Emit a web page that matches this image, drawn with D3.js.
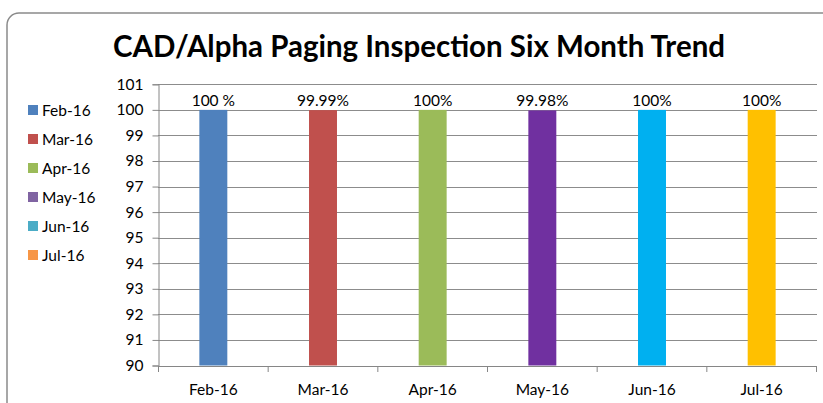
<!DOCTYPE html>
<html><head><meta charset="utf-8">
<script src="https://cdn.jsdelivr.net/npm/d3@7"></script>
<style>body{margin:0;background:#fff;}svg{display:block;font-family:Lato,"Open Sans",sans-serif;}</style>
</head><body><svg id="c" width="823" height="403"></svg>
<script>
const categories = ["Feb-16","Mar-16","Apr-16","May-16","Jun-16","Jul-16"];
const values = [100, 99.99, 100, 99.98, 100, 100];
const valueLabels = ["100 %","99.99%","100%","99.98%","100%","100%"];
const barColors = ["#4F81BD","#C0504D","#9BBB59","#7030A0","#00B0F0","#FFC000"];
const legendColors = ["#4F81BD","#C0504D","#9BBB59","#8064A2","#4BACC6","#F79646"];
const yTicks = [90,91,92,93,94,95,96,97,98,99,100,101];
const title = "CAD/Alpha Paging Inspection Six Month Trend";

const svg = d3.select("#c");
svg.append("rect").attr("x",7).attr("y",13).attr("width",840).attr("height",420)
  .attr("rx",12).attr("fill","#fff").attr("stroke","#8a8a8a").attr("stroke-width",1.5);

svg.append("text").attr("x",419).attr("y",57).attr("text-anchor","middle")
  .attr("font-size",30).attr("font-weight","bold").attr("fill","#000")
  .attr("textLength",612).attr("lengthAdjust","spacingAndGlyphs").text(title);

const x = d3.scaleBand().domain(categories).range([158.5,816.5]).paddingInner(0.745).paddingOuter(0.3725);
const y = d3.scaleLinear().domain([90,101]).range([365.5,84.3]);

const g = svg.append("g");
// gridlines
g.selectAll("line.grid").data(yTicks.filter(d=>d>90)).join("line")
  .attr("x1",158).attr("x2",817).attr("y1",d=>Math.round(y(d))+0.5).attr("y2",d=>Math.round(y(d))+0.5)
  .attr("stroke","#8c8c8c").attr("stroke-width",1);

// y axis
const ya = g.append("g").attr("transform","translate(158.5,0)")
  .call(d3.axisLeft(y).tickValues(yTicks).tickSize(6).tickPadding(9).tickFormat(d3.format("d")));
ya.select(".domain").attr("stroke","#868686");
ya.selectAll(".tick line").attr("stroke","#868686");
ya.selectAll(".tick text").attr("font-size",15.5).attr("fill","#000").attr("font-family","Lato");

// bars
g.selectAll("rect.bar").data(values).join("rect")
  .attr("x",(d,i)=>x(categories[i])).attr("width",x.bandwidth())
  .attr("y",d=>y(d)).attr("height",d=>y(90)-y(d))
  .attr("fill",(d,i)=>barColors[i]);

// x axis
const xa = g.append("g").attr("transform","translate(0,366)")
  .call(d3.axisBottom(x).tickSize(0).tickPadding(18));
xa.select(".domain").attr("stroke","#868686");
xa.selectAll(".tick text").attr("font-size",15.5).attr("fill","#000").attr("font-family","Lato");
const step = x.step();
g.selectAll("line.xt").data(d3.range(categories.length+1)).join("line")
  .attr("x1",i=>158.5+i*step).attr("x2",i=>158.5+i*step)
  .attr("y1",366).attr("y2",372).attr("stroke","#868686");

// data labels
g.selectAll("text.lbl").data(values).join("text")
  .attr("x",(d,i)=>x(categories[i])+x.bandwidth()/2).attr("y",d=>y(d)-4)
  .attr("text-anchor","middle").attr("font-size",15.5).attr("fill","#000")
  .text((d,i)=>valueLabels[i]);

// legend
const lg = svg.append("g");
categories.forEach((c,i)=>{
  const yy = 110 + i*29;
  lg.append("rect").attr("x",28).attr("y",yy-5).attr("width",10).attr("height",10).attr("fill",legendColors[i]);
  lg.append("text").attr("x",42).attr("y",yy+5.5).attr("font-size",15.5).attr("fill","#000").text(c);
});
</script></body></html>
